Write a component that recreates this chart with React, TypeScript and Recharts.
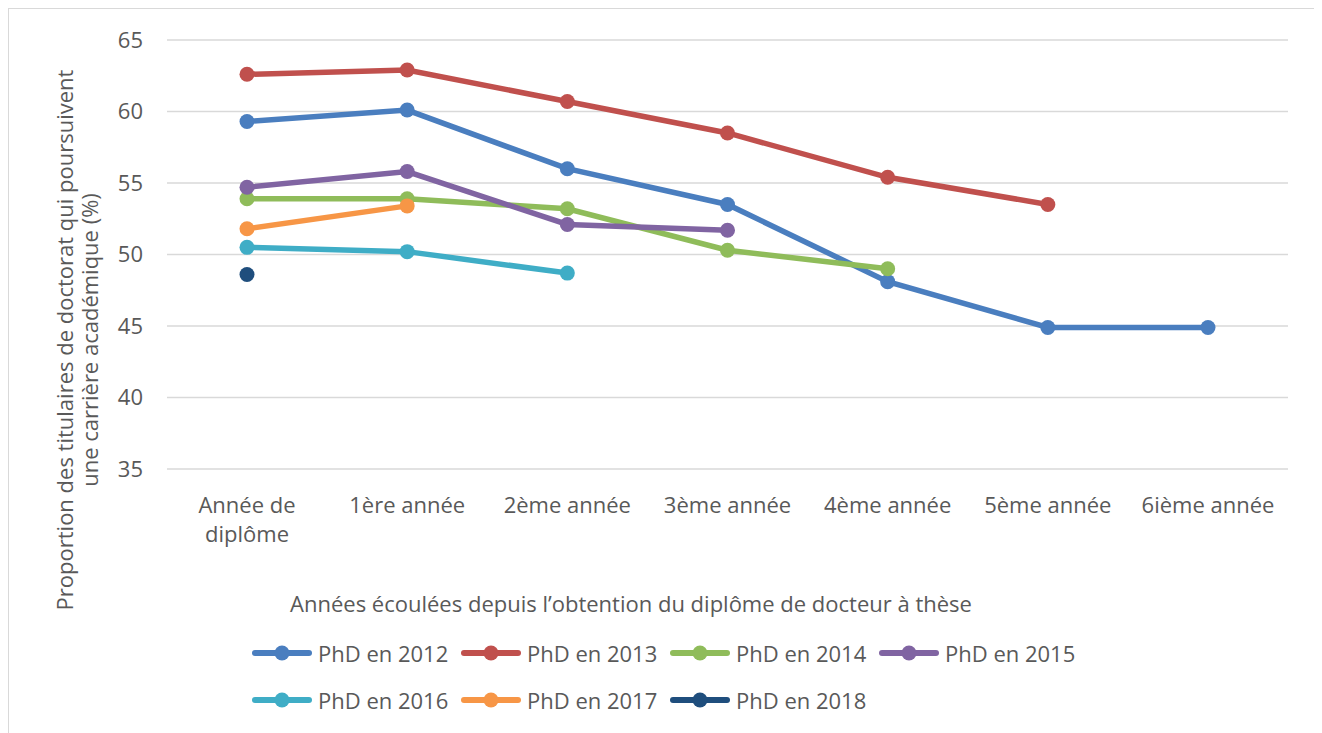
import React from 'react'
import { LineChart, Line, XAxis, YAxis, CartesianGrid, Label } from 'recharts'

// categories along the x axis
const categories = [
  'Année de diplôme',
  '1ère année',
  '2ème année',
  '3ème année',
  '4ème année',
  '5ème année',
  '6ième année',
]

// one list per cohort, null where the cohort has no value yet
const phd2012 = [59.3, 60.1, 56.0, 53.5, 48.1, 44.9, 44.9]
const phd2013 = [62.6, 62.9, 60.7, 58.5, 55.4, 53.5, null]
const phd2014 = [53.9, 53.9, 53.2, 50.3, 49.0, null, null]
const phd2015 = [54.7, 55.8, 52.1, 51.7, null, null, null]
const phd2016 = [50.5, 50.2, 48.7, null, null, null, null]
const phd2017 = [51.8, 53.4, null, null, null, null, null]
const phd2018 = [48.6, null, null, null, null, null, null]

const yTicks = [35, 40, 45, 50, 55, 60, 65]

const series = [
  { key: 'PhD en 2012', values: phd2012, color: '#4a7ebf' },
  { key: 'PhD en 2013', values: phd2013, color: '#c0504d' },
  { key: 'PhD en 2014', values: phd2014, color: '#8fbc5a' },
  { key: 'PhD en 2015', values: phd2015, color: '#8064a2' },
  { key: 'PhD en 2016', values: phd2016, color: '#3fadc6' },
  { key: 'PhD en 2017', values: phd2017, color: '#f79646' },
  { key: 'PhD en 2018', values: phd2018, color: '#1f4e7d' },
]

const data = categories.map((cat, i) => {
  const row: Record<string, string | number | null> = { cat }
  series.forEach((s) => {
    row[s.key] = s.values[i]
  })
  return row
})

const FONT = '"Open Sans", sans-serif'
const TEXT = '#595959'

const XTick = (props: any) => {
  const { x, y, payload } = props
  const lines = payload.value === categories[0] ? ['Année de', 'diplôme'] : [payload.value]
  return (
    <text x={x} y={y} textAnchor="middle" fill={TEXT} fontSize={22} fontFamily={FONT}>
      {lines.map((l, i) => (
        <tspan key={i} x={x} dy={i === 0 ? 44 : 29}>
          {l}
        </tspan>
      ))}
    </text>
  )
}

const YTitle = () => (
  <g fill={TEXT} fontSize={22} fontFamily={FONT} textAnchor="middle" style={{ whiteSpace: 'pre' }}>
    <text transform="translate(64,331) rotate(-90)">
      Proportion des titulaires de doctorat qui poursuivent
    </text>
    <text transform="translate(89,331) rotate(-90)">{'une carrière académique  (%)'}</text>
  </g>
)

const XTitle = () => (
  <text x={622} y={603} fill={TEXT} fontSize={22} fontFamily={FONT} textAnchor="middle">
    Années écoulées depuis l’obtention du diplôme de docteur à thèse
  </text>
)

const LegendBox = () => (
  <div
    style={{
      position: 'absolute',
      left: 243,
      top: 620,
      display: 'grid',
      gridTemplateColumns: 'repeat(4, 209px)',
      gridAutoRows: '47px',
      fontFamily: FONT,
      fontSize: 22,
      color: TEXT,
    }}
  >
    {series.map((s) => (
      <div key={s.key} style={{ display: 'flex', alignItems: 'center', whiteSpace: 'nowrap' }}>
        <svg width={60} height={18} style={{ marginRight: 6 }}>
          <line x1={3} y1={9} x2={57} y2={9} stroke={s.color} strokeWidth={6} strokeLinecap="round" />
          <circle cx={30} cy={9} r={7.5} fill={s.color} />
        </svg>
        <span>{s.key}</span>
      </div>
    ))}
  </div>
)

export default function App() {
  return (
    <div
      style={{
        position: 'relative',
        width: 1310,
        height: 724,
        border: '1px solid #d9d9d9',
        background: '#fff',
        fontFamily: FONT,
      }}
    >
      <LineChart
        width={1310}
        height={724}
        data={data}
        margin={{ top: 31, right: 31, left: 0, bottom: 184 }}
      >
        <CartesianGrid vertical={false} stroke="#d9d9d9" strokeWidth={1.5} />
        <XAxis
          dataKey="cat"
          axisLine={false}
          tickLine={false}
          tickSize={0}
          tickMargin={0}
          height={80}
          interval={0}
          padding={{ left: 80, right: 80 }}
          tick={<XTick />}
        >
          <Label content={<XTitle />} />
        </XAxis>
        <YAxis
          domain={[35, 65]}
          ticks={yTicks}
          width={158}
          axisLine={false}
          tickLine={false}
          tickSize={0}
          tickMargin={24}
          tick={{ fill: TEXT, fontSize: 22, fontFamily: FONT }}
        >
          <Label content={<YTitle />} />
        </YAxis>
        {series.map((s) => (
          <Line
            key={s.key}
            dataKey={s.key}
            stroke={s.color}
            strokeWidth={5.5}
            dot={{ r: 7.5, fill: s.color, stroke: s.color, strokeWidth: 0 }}
            activeDot={false}
            isAnimationActive={false}
          />
        ))}
      </LineChart>
      <LegendBox />
    </div>
  )
}
